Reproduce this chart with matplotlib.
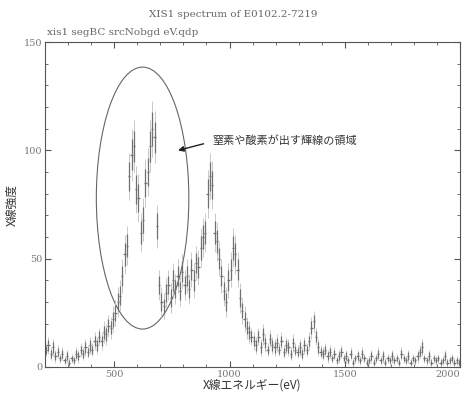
import matplotlib
matplotlib.use("Agg")
import matplotlib.pyplot as plt
from matplotlib.patches import Ellipse
import numpy as np

# 10 eV bins, 200-2000 eV
energy = np.arange(205, 2000, 10)
counts = [8, 10, 6, 9, 5, 7, 4, 6, 3, 5,
          2, 4, 3, 6, 5, 8, 6, 9, 7, 10,
          8, 12, 10, 14, 12, 16, 15, 19, 18, 22,
          25, 30, 33, 42, 52, 56, 88, 98, 102, 82,
          78, 62, 68, 85, 90, 102, 110, 106, 65, 38,
          30, 28, 34, 38, 32, 40, 36, 42, 35, 44,
          38, 42, 36, 45, 40, 48, 46, 55, 60, 62,
          80, 88, 84, 62, 58, 50, 42, 35, 30, 40,
          45, 55, 52, 45, 32, 26, 22, 18, 16, 14,
          12, 10, 14, 9, 15, 11, 8, 13, 10, 9,
          11, 8, 12, 7, 10, 9, 6, 11, 8, 7,
          9, 6, 10, 8, 12, 18, 21, 14, 9, 7,
          6, 8, 5, 7, 4, 6, 3, 5, 7, 4,
          5, 3, 6, 2, 4, 5, 3, 6, 4, 2,
          3, 5, 2, 4, 6, 3, 5, 2, 4, 3,
          5, 3, 4, 2, 6, 4, 3, 5, 2, 4,
          3, 5, 7, 9, 4, 3, 5, 2, 4, 3,
          4, 2, 3, 5, 2, 3, 4, 2, 3, 2]
errors = [3, 4, 3, 4, 3, 3, 2, 3, 2, 3,
          2, 2, 2, 3, 3, 3, 3, 4, 3, 4,
          3, 4, 4, 4, 4, 5, 5, 5, 5, 6,
          6, 7, 7, 8, 9, 9, 11, 12, 12, 11,
          11, 9, 10, 11, 11, 12, 13, 12, 10, 7,
          7, 6, 7, 7, 7, 8, 7, 8, 7, 8,
          7, 8, 7, 8, 8, 8, 8, 9, 9, 9,
          11, 11, 11, 9, 9, 8, 8, 7, 7, 8,
          8, 9, 9, 8, 7, 6, 6, 5, 5, 4,
          4, 4, 4, 4, 5, 4, 3, 4, 4, 4,
          4, 3, 4, 3, 4, 4, 3, 4, 3, 3,
          4, 3, 4, 3, 4, 5, 5, 4, 4, 3,
          3, 3, 3, 3, 2, 3, 2, 3, 3, 2,
          3, 2, 3, 2, 2, 3, 2, 3, 2, 2,
          2, 3, 2, 2, 3, 2, 3, 2, 2, 2,
          3, 2, 2, 2, 3, 2, 2, 3, 2, 2,
          2, 3, 3, 4, 2, 2, 3, 2, 2, 2,
          2, 2, 2, 3, 2, 2, 2, 2, 2, 2]

counts = np.array(counts)
errors = np.array(errors)

jp = ['Noto Sans CJK JP', 'DejaVu Sans']
serif = 'DejaVu Serif'
grey = '#555555'

fig = plt.figure(figsize=(4.67, 3.98), dpi=100)
ax = fig.add_axes([0.0964, 0.078, 0.889, 0.816])

# faint full error bars, darker inner part
ax.errorbar(energy, counts, yerr=errors, fmt='none', ecolor='#c0c0c0',
            elinewidth=0.6, linestyle=':')
ax.errorbar(energy, counts, xerr=5, yerr=errors * 0.6, fmt='none',
            ecolor='#707070', elinewidth=0.9)

ax.set_xlim(200, 2000)
ax.set_ylim(0, 150)
ax.set_xticks([500, 1000, 1500, 2000])
ax.set_xticks(np.arange(200, 2001, 100), minor=True)
ax.set_yticks([0, 50, 100, 150])
ax.set_yticks(np.arange(0, 151, 10), minor=True)
ax.tick_params(which='both', direction='in', top=True, right=True,
               colors=grey, labelsize=7, pad=2)
ax.tick_params(which='major', length=4)
ax.tick_params(which='minor', length=2)
for lab in ax.get_xticklabels() + ax.get_yticklabels():
    lab.set_family(serif)
    lab.set_color('#777777')
ax.get_xticklabels()[-1].set_horizontalalignment('right')
for s in ax.spines.values():
    s.set_color(grey)
    s.set_linewidth(0.8)

ax.set_xlabel('X線エネルギー(eV)', family=jp, fontsize=8.5, color='#333333', labelpad=0)
ax.set_ylabel('X線強度', family=jp, fontsize=8.5, color='#333333', labelpad=4)

fig.text(0.5, 0.963, 'XIS1 spectrum of E0102.2-7219', ha='center', va='center',
         family=serif, fontsize=7.5, color='#666666')
fig.text(0.1, 0.918, 'xis1 segBC srcNobgd eV.qdp', ha='left', va='center',
         family=serif, fontsize=7.5, color='#666666')

ax.add_patch(Ellipse((623, 78), 401, 121, fill=False, edgecolor='#666666', lw=0.8))
ax.annotate('', xy=(765, 99.7), xytext=(899, 103.4),
            arrowprops=dict(arrowstyle='-|>', color='#222222', lw=1.0,
                            mutation_scale=8))
ax.text(925, 104.8, '窒素や酸素が出す輝線の領域', family=jp, fontsize=8,
        color='#333333', va='center', ha='left')

fig.savefig('out.png', dpi=100)
